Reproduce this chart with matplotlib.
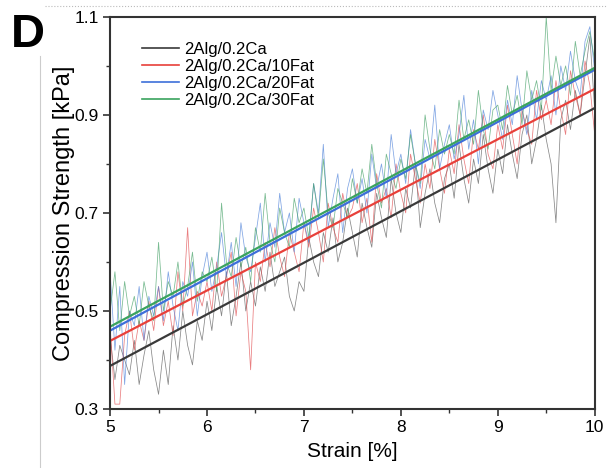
import matplotlib
matplotlib.use('Agg')
import matplotlib.pyplot as plt
from matplotlib.lines import Line2D
from matplotlib.ticker import MultipleLocator
import numpy as np

plt.rcParams['font.family'] = ['Liberation Sans', 'DejaVu Sans']

# strain axis, 0.05 % steps from 5 to 10
strain = np.linspace(5, 10, 101)

ca = [0.45, 0.36, 0.43, 0.40, 0.37, 0.44, 0.35, 0.41, 0.46, 0.38,
      0.33, 0.42, 0.35, 0.47, 0.40, 0.50, 0.43, 0.39, 0.48, 0.44,
      0.52, 0.46, 0.55, 0.49, 0.58, 0.47, 0.53, 0.60, 0.50, 0.56,
      0.51, 0.59, 0.54, 0.62, 0.55, 0.58, 0.61, 0.53, 0.50, 0.56,
      0.54, 0.65, 0.60, 0.57, 0.66, 0.62, 0.69, 0.60, 0.64, 0.71,
      0.66, 0.61, 0.72, 0.67, 0.63, 0.74, 0.69, 0.65, 0.77, 0.70,
      0.66, 0.75, 0.71, 0.80, 0.67, 0.74, 0.79, 0.72, 0.68, 0.77,
      0.80, 0.73, 0.84, 0.77, 0.72, 0.81, 0.76, 0.86, 0.79, 0.74,
      0.83, 0.78, 0.88, 0.82, 0.77, 0.86, 0.90, 0.80, 0.85, 0.92,
      0.85, 0.80, 0.68, 0.89, 0.93, 0.87, 0.95, 0.90, 0.98, 1.06, 0.91]

fat10 = [0.47, 0.31, 0.31, 0.45, 0.50, 0.42, 0.48, 0.44, 0.52, 0.46,
         0.55, 0.47, 0.52, 0.45, 0.58, 0.50, 0.67, 0.49, 0.54, 0.51,
         0.56, 0.50, 0.60, 0.53, 0.57, 0.62, 0.49, 0.58, 0.54, 0.38,
         0.60, 0.56, 0.64, 0.59, 0.67, 0.61, 0.57, 0.66, 0.62, 0.58,
         0.68, 0.63, 0.71, 0.66, 0.60, 0.72, 0.67, 0.64, 0.74, 0.69,
         0.71, 0.76, 0.68, 0.73, 0.64, 0.78, 0.72, 0.75, 0.69, 0.80,
         0.74, 0.70, 0.82, 0.77, 0.72, 0.80, 0.75, 0.85, 0.79, 0.74,
         0.83, 0.78, 0.88, 0.81, 0.76, 0.87, 0.83, 0.90, 0.82, 0.79,
         0.88, 0.83, 0.92, 0.86, 0.80, 0.91, 0.87, 0.84, 0.95, 0.89,
         0.93, 0.88, 0.97, 0.91, 0.86, 0.99, 0.94, 0.90, 1.01, 0.96, 0.86]

fat20 = [0.58, 0.42, 0.55, 0.35, 0.50, 0.47, 0.55, 0.44, 0.53, 0.49,
         0.55, 0.48, 0.58, 0.51, 0.46, 0.56, 0.53, 0.60, 0.49, 0.57,
         0.62, 0.54, 0.59, 0.66, 0.57, 0.64, 0.55, 0.68, 0.61, 0.58,
         0.65, 0.72, 0.60, 0.68, 0.63, 0.74, 0.66, 0.70, 0.62, 0.73,
         0.68, 0.64, 0.76, 0.70, 0.84, 0.67, 0.73, 0.78, 0.66, 0.75,
         0.79, 0.72, 0.77, 0.70, 0.82, 0.75, 0.80, 0.73, 0.86, 0.78,
         0.82, 0.76, 0.87, 0.80, 0.75, 0.85, 0.81, 0.92, 0.79, 0.84,
         0.88, 0.81, 0.86, 0.94, 0.83, 0.89, 0.80, 0.91, 0.87, 0.95,
         0.90, 0.85, 0.93, 0.88, 0.98, 0.91, 0.86, 0.95, 0.89, 0.97,
         0.93, 0.98, 0.90, 1.00, 0.95, 1.03, 0.97, 0.94, 1.05, 1.08, 0.99]

fat30 = [0.50, 0.58, 0.46, 0.56, 0.49, 0.53, 0.47, 0.56, 0.51, 0.48,
         0.64, 0.50, 0.56, 0.53, 0.60, 0.51, 0.55, 0.62, 0.52, 0.58,
         0.56, 0.61, 0.54, 0.72, 0.60, 0.57, 0.65, 0.59, 0.63, 0.56,
         0.67, 0.62, 0.74, 0.64, 0.60, 0.71, 0.66, 0.63, 0.73, 0.68,
         0.71, 0.65, 0.76, 0.69, 0.81, 0.70, 0.67, 0.75, 0.72, 0.69,
         0.77, 0.72, 0.79, 0.74, 0.84, 0.76, 0.71, 0.82, 0.78, 0.75,
         0.81, 0.77, 0.86, 0.80, 0.76, 0.90, 0.83, 0.79, 0.87, 0.82,
         0.86, 0.82, 0.93, 0.85, 0.89, 0.84, 0.95, 0.87, 0.83, 0.91,
         0.92, 0.87, 0.96, 0.90, 0.94, 0.88, 0.99, 0.93, 0.97, 0.91,
         1.10, 0.95, 1.02, 0.96, 1.00, 0.94, 1.05, 0.98, 1.03, 1.07, 1.01]

labels = ['2Alg/0.2Ca', '2Alg/0.2Ca/10Fat', '2Alg/0.2Ca/20Fat', '2Alg/0.2Ca/30Fat']
series = [ca, fat10, fat20, fat30]
# linear fit values at strain 5 and 10
fit_x = [5, 10]
fit_start = [0.388, 0.439, 0.460, 0.468]
fit_end = [0.914, 0.953, 0.992, 0.996]
y_ticks = [0.3, 0.5, 0.7, 0.9, 1.1]

colors = ['#3a3a3a', '#e8403a', '#3d6fd9', '#3aa35e']
noise_colors = ['#555555', '#e0474a', '#4a7fd8', '#3f9e62']

fig = plt.figure(figsize=(6.15, 4.68), dpi=100)
ax = fig.add_axes([0.179, 0.126, 0.788, 0.838])

for s, c in zip(series, noise_colors):
    ax.plot(strain, s, color=c, lw=0.55, alpha=0.7)
for a, b, c in zip(fit_start, fit_end, colors):
    ax.plot(fit_x, [a, b], color=c, lw=1.6)

ax.set_xlim(5, 10)
ax.set_ylim(0.3, 1.1)
ax.xaxis.set_major_locator(MultipleLocator(1))
ax.xaxis.set_minor_locator(MultipleLocator(0.5))
ax.set_yticks(y_ticks)
ax.set_yticklabels([f'{t:.1f}' for t in y_ticks])
ax.yaxis.set_minor_locator(MultipleLocator(0.1))
ax.tick_params(which='major', direction='out', length=5, width=1.2, labelsize=12.5,
               color='#333333', pad=3)
ax.tick_params(which='minor', direction='out', length=3, width=1.0, color='#333333')
for sp in ax.spines.values():
    sp.set_linewidth(1.5)
    sp.set_color('#333333')

ax.set_xlabel('Strain [%]', fontsize=15, labelpad=5)
ax.set_ylabel('Compression Strength [kPa]', fontsize=17, labelpad=0)

handles = [Line2D([], [], color=c, lw=1.2) for c in colors]
ax.legend(handles, labels, loc='upper left', frameon=False, fontsize=12,
          handlelength=2.2, labelspacing=0.12, handletextpad=0.3,
          bbox_to_anchor=(0.035, 0.975))

fig.text(0.018, 0.972, 'D', fontsize=34, fontweight='bold', va='top', ha='left')

# light frame of the panel
fig.add_artist(Line2D([0.073, 0.985], [0.987, 0.987], color='#bbbbbb', lw=0.8, ls=':'))
fig.add_artist(Line2D([0.065, 0.065], [0.0, 0.88], color='#cccccc', lw=0.8))

fig.savefig('out.png', dpi=100)
